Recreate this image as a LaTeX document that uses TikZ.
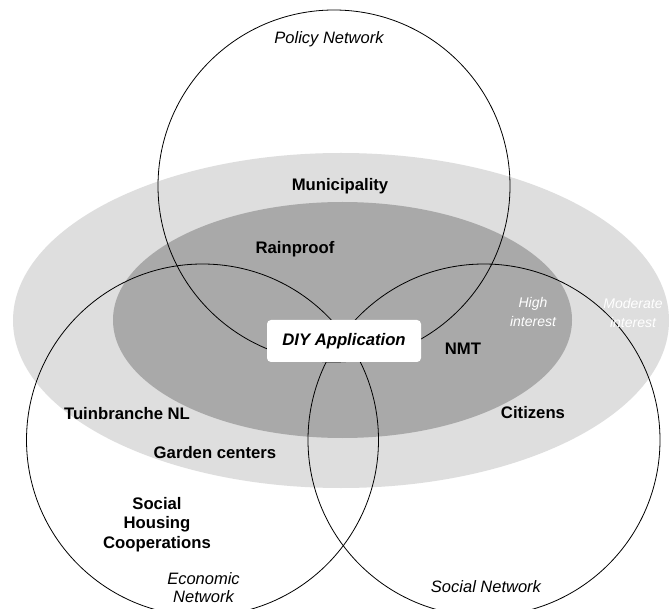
\documentclass[tikz,border=0pt]{standalone}
\usepackage{fontspec}
\setmainfont{Liberation Sans}
\definecolor{lightring}{HTML}{DEDEDE}
\definecolor{darkring}{HTML}{A9A9A9}
\tikzset{
  ring/.style={draw=black, line width=0.8pt},
  actor/.style={font=\fontsize{16.7}{19.5}\selectfont\bfseries, inner sep=0pt, align=center},
  netlabel/.style={font=\fontsize{16.5}{18}\selectfont\itshape, inner sep=0pt, align=center},
  levellabel/.style={font=\fontsize{14}{19}\selectfont\itshape, text=white, inner sep=0pt, align=center},
  corebox/.style={fill=white, rounded corners=4pt, minimum width=154pt, minimum height=42pt, inner sep=0pt,
    font=\fontsize{16.7}{19.5}\selectfont\bfseries\itshape}
}
\begin{document}
\begin{tikzpicture}[x=1pt,y=-1pt]
\clip (0,0) rectangle (669,609);
\fill[white] (0,0) rectangle (669,609);
% interest ellipses
\fill[lightring] (341,320.5) ellipse [x radius=328, y radius=167.5];
\fill[darkring] (342.5,320) ellipse [x radius=229.5, y radius=118];
% network circles
\draw[ring] (334,186) circle [radius=176];
\draw[ring] (202.5,440) circle [radius=176];
\draw[ring] (484,440) circle [radius=176];
% labels
\node[netlabel] (policy) at (329,39) {Policy Network};
\node[netlabel] (economic) at (203.5,588) {Economic\\Network};
\node[netlabel] (social) at (486,587) {Social Network};
\node[levellabel] (high) at (533,311.5) {High\\interest};
\node[levellabel] (moderate) at (633,312.5) {Moderate\\interest};
\node[actor] (municipality) at (340,186.5) {Municipality};
\node[actor] (rainproof) at (295,249) {Rainproof};
\node[corebox] (diy) at (344,341) {DIY Application};
\node[actor] (nmt) at (463,348.5) {NMT};
\node[actor] (tuin) at (127,414) {Tuinbranche NL};
\node[actor] (citizens) at (533,413) {Citizens};
\node[actor] (garden) at (215,452.5) {Garden centers};
\node[actor] (housing) at (157,524.5) {Social\\Housing\\Cooperations};
\end{tikzpicture}
\end{document}
